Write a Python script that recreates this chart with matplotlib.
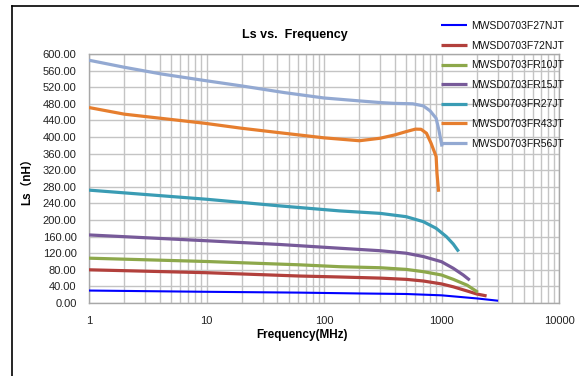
import matplotlib
matplotlib.use("Agg")
import matplotlib.pyplot as plt
from matplotlib.lines import Line2D
from matplotlib.ticker import NullFormatter, LogLocator

plt.rcParams['font.family'] = ['Liberation Sans', 'Noto Sans CJK SC', 'DejaVu Sans']

# Inductance (nH) vs frequency (MHz) for each part number
names = ["MWSD0703F27NJT", "MWSD0703F72NJT", "MWSD0703FR10JT", "MWSD0703FR15JT",
         "MWSD0703FR27JT", "MWSD0703FR43JT", "MWSD0703FR56JT"]

f_27n = [1, 10, 62, 200, 500, 1000, 2000, 3030]
ls_27n = [30, 27, 25, 23, 21.7, 18.5, 11, 5.5]

f_72n = [1, 10, 62, 135, 300, 500, 700, 1000, 1260, 1650, 2000, 2420]
ls_72n = [80, 73, 65, 62.7, 60, 57, 53, 46, 39, 29, 21.7, 17]

f_r10 = [1, 10, 62, 135, 300, 500, 700, 1000, 1260, 1650, 2040]
ls_r10 = [108, 100, 92, 87.5, 85, 81, 75.5, 67.5, 57, 43, 26]

f_r15 = [1, 10, 42, 135, 300, 500, 700, 1000, 1260, 1530, 1740]
ls_r15 = [164, 150, 141, 132, 126, 120, 112, 99.5, 83.6, 67.5, 55]

f_r27 = [1, 10, 42, 135, 300, 500, 700, 900, 1100, 1260, 1400]
ls_r27 = [272, 250, 234, 222, 216, 208, 196, 180, 160, 142, 124]

f_r43 = [1, 2, 4.1, 9.7, 20, 46, 100, 200, 300, 400, 500, 600, 670, 745, 815, 900, 915, 945]
ls_r43 = [471, 455, 445, 433, 421, 409, 398, 391, 397, 405, 413, 419, 418.6, 409, 385, 353, 313, 268]

f_r56 = [1, 2, 4.1, 9.7, 20, 46, 100, 200, 300, 400, 570, 700, 800, 900, 950, 1010]
ls_r56 = [585, 568, 552, 536, 523, 507, 494, 487, 483, 481, 480, 475, 463, 445, 417, 377]

freqs = [f_27n, f_72n, f_r10, f_r15, f_r27, f_r43, f_r56]
values = [ls_27n, ls_72n, ls_r10, ls_r15, ls_r27, ls_r43, ls_r56]
colors = ["#0000FF", "#B2403C", "#8DA84B", "#775A99", "#3A9CB4", "#E67E2E", "#93A9D2"]
widths = [1.5, 2.3, 2.3, 2.3, 2.3, 2.3, 2.3]

y_ticks = list(range(0, 601, 40))
x_ticks = [1, 10, 100, 1000, 10000]
x_ticklabels = ["1", "10", "100", "1000", "10000"]

W, H = 579, 376
fig = plt.figure(figsize=(W / 100, H / 100), dpi=100)
ax = fig.add_axes([89 / W, 1 - 303 / H, (559 - 89) / W, (303 - 54) / H])

for f, v, c, lw, n in zip(freqs, values, colors, widths, names):
    ax.plot(f, v, color=c, lw=lw, label=n, solid_capstyle='butt',
            solid_joinstyle='round', zorder=3)

ax.set_xscale('log')
ax.set_xlim(1, 10000)
ax.set_ylim(0, 600)
ax.set_xticks(x_ticks)
ax.set_xticklabels(x_ticklabels)
ax.xaxis.set_minor_locator(LogLocator(base=10, subs=range(2, 10)))
ax.xaxis.set_minor_formatter(NullFormatter())
ax.set_yticks(y_ticks)
ax.set_yticklabels([f"{t:.2f}" for t in y_ticks])

grid_c = "#c4c4c4"
ax.grid(which='major', axis='both', color=grid_c, lw=1.0)
ax.grid(which='minor', axis='x', color=grid_c, lw=1.0)
ax.set_axisbelow(True)
for s in ax.spines.values():
    s.set_color("#a8a8a8")
    s.set_linewidth(1.0)
ax.tick_params(which='both', length=0, labelsize=8, colors='#222222')
ax.tick_params(axis='y', pad=9)
ax.tick_params(axis='x', pad=9)

ax.set_xlabel("Frequency(MHz)", fontsize=8.5, fontweight='bold')
ax.xaxis.set_label_coords((302 - 89) / 470, -0.105)
ax.set_ylabel("Ls（nH）", fontsize=8.5, fontweight='bold')
ax.yaxis.set_label_coords((33 - 89) / 470, 0.50)

fig.text(295 / W, 1 - 35 / H, "Ls vs.  Frequency", ha='center', va='center',
         fontsize=9, fontweight='bold')

leg = fig.legend(loc='upper left', bbox_to_anchor=(441 / W, 1 - 21 / H),
                 frameon=False, fontsize=7.5, handlelength=2.5, handletextpad=0.35,
                 labelspacing=0.92, borderaxespad=0, borderpad=0)
for t in leg.get_texts():
    t.set_color('#111111')

# outer chart frame (left and top edges)
fig.add_artist(Line2D([12 / W, 12 / W], [0, 1 - 6 / H], color='black', lw=1.2))
fig.add_artist(Line2D([12 / W, 1], [1 - 6 / H, 1 - 6 / H], color='black', lw=1.2))

fig.savefig("out.png", dpi=100)
